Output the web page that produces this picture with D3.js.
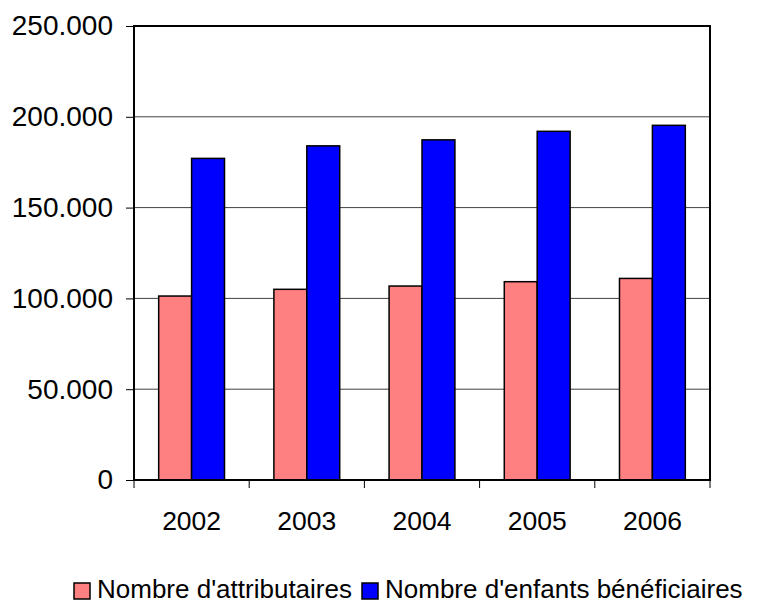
<!DOCTYPE html>
<html><head><meta charset="utf-8">
<script src="https://cdn.jsdelivr.net/npm/d3@7"></script>
<style>body{margin:0;background:#fff;} text{font-family:"Liberation Sans",Arial,sans-serif;}</style>
</head><body><svg id="c" width="760" height="604"></svg>
<script>
const years = ["2002","2003","2004","2005","2006"];
const attributaires = [101300, 105000, 106800, 109200, 111000];
const enfants = [177100, 184000, 187300, 192000, 195300];
const seriesNames = ["Nombre d'attributaires", "Nombre d'enfants bénéficiaires"];
const seriesColors = ["#FF8080", "#0000FF"];
const yTicks = [0, 50000, 100000, 150000, 200000, 250000];

const svg = d3.select("#c");
const L = 134, R = 710, T = 26, B = 480;
const x = d3.scaleBand().domain(years).range([L, R]).paddingInner(0).paddingOuter(0);
const y = d3.scaleLinear().domain([0, 250000]).range([B, T]);
const fmt = v => v === 0 ? "0" : d3.format(",")(v).replace(/,/g, ".");
const FF = "Liberation Sans, Arial, sans-serif";

// gridlines
svg.append("g").selectAll("line").data(yTicks.slice(1)).join("line")
  .attr("x1", L).attr("x2", R).attr("y1", d => y(d)).attr("y2", d => y(d))
  .attr("stroke", "#404040").attr("stroke-width", 1);

// bars
const bw = x.bandwidth() / 3.5;
const data = [attributaires, enfants];
data.forEach((vals, si) => {
  svg.append("g").selectAll("rect").data(years).join("rect")
    .attr("x", d => x(d) + bw * 0.75 + si * bw)
    .attr("y", (d, i) => y(vals[i]))
    .attr("width", bw)
    .attr("height", (d, i) => B - y(vals[i]))
    .attr("fill", seriesColors[si])
    .attr("stroke", "#000").attr("stroke-width", 1.5);
});

// frame
svg.append("rect").attr("x", L).attr("y", T).attr("width", R - L).attr("height", B - T)
  .attr("fill", "none").attr("stroke", "#000").attr("stroke-width", 2);

// y axis
const ya = svg.append("g").attr("transform", `translate(${L},0)`)
  .call(d3.axisLeft(y).tickValues(yTicks).tickFormat(fmt).tickSize(8).tickPadding(13));
ya.select(".domain").remove();
ya.selectAll("line").attr("stroke", "#000");
ya.selectAll("text").attr("font-size", 28).attr("fill", "#000").attr("font-family", FF);

// x axis
const xa = svg.append("g").attr("transform", `translate(0,${B})`)
  .call(d3.axisBottom(x).tickSize(0).tickPadding(30));
xa.select(".domain").remove();
xa.selectAll("text").attr("font-size", 26.5).attr("fill", "#000").attr("font-family", FF)
  .attr("dy", null).attr("y", 49.5);
// boundary ticks
const bounds = years.map(d => x(d)).concat([R]);
svg.append("g").selectAll("line").data(bounds).join("line")
  .attr("x1", d => d).attr("x2", d => d).attr("y1", B).attr("y2", B + 8)
  .attr("stroke", "#000").attr("stroke-width", 1);

// legend
const leg = svg.append("g");
const legX = [74, 362];
seriesNames.forEach((n, i) => {
  leg.append("rect").attr("x", legX[i]).attr("y", 583).attr("width", 16).attr("height", 16)
    .attr("fill", seriesColors[i]).attr("stroke", "#000").attr("stroke-width", 1.5);
  leg.append("text").attr("x", legX[i] + 23).attr("y", 598).attr("font-size", 26)
    .attr("font-family", FF).attr("fill", "#000").text(n);
});
</script></body></html>
